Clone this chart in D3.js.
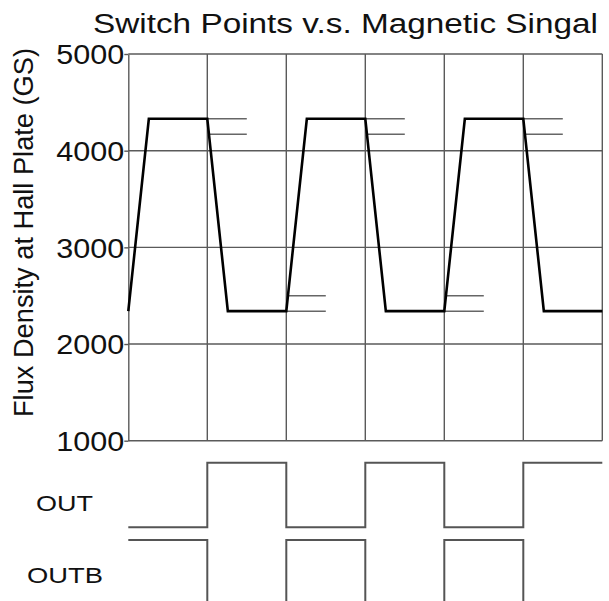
<!DOCTYPE html>
<html>
<head>
<meta charset="utf-8">
<script src="https://cdn.jsdelivr.net/npm/d3@7"></script>
<style>
  body { margin: 0; background: #fff; }
  text { font-family: "Liberation Sans", Arial, sans-serif; fill: #111; }
</style>
</head>
<body>
<div id="chart"></div>
<script>

var width = 609;
var height = 601;

// magnetic signal (time in switch periods, flux in GS)
var times = [0, 0.26, 1, 1.26, 2, 2.26, 3, 3.26, 4, 4.26, 5, 5.26, 6];
var flux = [2340, 4330, 4330, 2340, 2340, 4330, 4330, 2340, 2340, 4330, 4330, 2340, 2340];

// switch point marks: operate/release levels
var topMarkStarts = [1, 3, 5];
var bottomMarkStarts = [2, 4];
var topMarkLevels = [4330, 4170];
var bottomMarkLevels = [2500, 2340];
var markLength = 0.5;

// output states per period
var outStates = [0, 1, 0, 1, 0, 1];
var outbStates = [1, 0, 1, 0, 1, 0];

var yTicks = [1000, 2000, 3000, 4000, 5000];
var xGrid = [1, 2, 3, 4, 5, 6];

var title = "Switch Points v.s. Magnetic Singal";
var yLabel = "Flux Density at Hall Plate (GS)";

var svg = d3.select("#chart")
  .append("svg")
  .attr("width", width)
  .attr("height", height);

var xScale = d3.scaleLinear().domain([0, 6]).range([128.3, 602.3]);
var yScale = d3.scaleLinear().domain([1000, 5000]).range([440.7, 54]);

var gridColor = "#5a5a5a";

// grid
svg.append("g").selectAll("line.h")
  .data(yTicks.slice(1))
  .enter().append("line")
  .attr("x1", xScale(0)).attr("x2", xScale(6))
  .attr("y1", function(d) { return yScale(d); })
  .attr("y2", function(d) { return yScale(d); })
  .attr("stroke", gridColor).attr("stroke-width", 1.4);

svg.append("g").selectAll("line.v")
  .data(xGrid)
  .enter().append("line")
  .attr("x1", function(d) { return xScale(d); })
  .attr("x2", function(d) { return xScale(d); })
  .attr("y1", yScale(5000)).attr("y2", yScale(1000))
  .attr("stroke", gridColor).attr("stroke-width", 1.4);

svg.append("line")
  .attr("x1", xScale(0)).attr("x2", xScale(6))
  .attr("y1", yScale(1000)).attr("y2", yScale(1000))
  .attr("stroke", gridColor).attr("stroke-width", 1.4);

// y axis
var yAxis = svg.append("g")
  .attr("transform", "translate(" + xScale(0) + ",0)")
  .call(d3.axisLeft(yScale).tickValues(yTicks).tickFormat(d3.format("d"))
    .tickSize(4).tickSizeOuter(0).tickPadding(0));
yAxis.select(".domain").attr("stroke", gridColor).attr("stroke-width", 1.4);
yAxis.selectAll(".tick line").attr("stroke", gridColor).attr("stroke-width", 1.4);
yAxis.selectAll(".tick text")
  .attr("font-size", 27)
  .attr("font-family", "Liberation Sans, Arial, sans-serif")
  .attr("fill", "#111")
  .attr("dy", "0.36em")
  .attr("textLength", 68)
  .attr("lengthAdjust", "spacingAndGlyphs");

// switch point marks
var marks = [];
topMarkStarts.forEach(function(t) {
  topMarkLevels.forEach(function(v) { marks.push({t: t, v: v}); });
});
bottomMarkStarts.forEach(function(t) {
  bottomMarkLevels.forEach(function(v) { marks.push({t: t, v: v}); });
});
svg.append("g").selectAll("line")
  .data(marks)
  .enter().append("line")
  .attr("x1", function(d) { return xScale(d.t); })
  .attr("x2", function(d) { return xScale(d.t + markLength); })
  .attr("y1", function(d) { return yScale(d.v); })
  .attr("y2", function(d) { return yScale(d.v); })
  .attr("stroke", "#666").attr("stroke-width", 1.5);

// magnetic signal
var signal = times.map(function(t, i) { return [t, flux[i]]; });
svg.append("path")
  .datum(signal)
  .attr("fill", "none")
  .attr("stroke", "#000")
  .attr("stroke-width", 2.6)
  .attr("stroke-linejoin", "miter")
  .attr("d", d3.line()
    .x(function(d) { return xScale(d[0]); })
    .y(function(d) { return yScale(d[1]); }));

// digital outputs
var outY = d3.scaleLinear().domain([0, 1]).range([527.3, 462.7]);
var outbY = d3.scaleLinear().domain([0, 1]).range([625, 540]);

function stepPoints(states) {
  var pts = states.map(function(s, i) { return [i, s]; });
  pts.push([states.length, states[states.length - 1]]);
  return pts;
}

svg.append("path")
  .datum(stepPoints(outStates))
  .attr("fill", "none").attr("stroke", "#555").attr("stroke-width", 2)
  .attr("d", d3.line().curve(d3.curveStepAfter)
    .x(function(d) { return xScale(d[0]); })
    .y(function(d) { return outY(d[1]); }));

svg.append("path")
  .datum(stepPoints(outbStates))
  .attr("fill", "none").attr("stroke", "#555").attr("stroke-width", 2)
  .attr("d", d3.line().curve(d3.curveStepAfter)
    .x(function(d) { return xScale(d[0]); })
    .y(function(d) { return outbY(d[1]); }));

// texts
svg.append("text")
  .attr("x", 93).attr("y", 33)
  .attr("font-size", 27)
  .attr("textLength", 505)
  .attr("lengthAdjust", "spacingAndGlyphs")
  .text(title);

svg.append("text")
  .attr("transform", "translate(33,417) rotate(-90)")
  .attr("font-size", 27)
  .attr("textLength", 369)
  .attr("lengthAdjust", "spacingAndGlyphs")
  .text(yLabel);

svg.append("text")
  .attr("x", 36).attr("y", 511)
  .attr("font-size", 22)
  .attr("textLength", 57)
  .attr("lengthAdjust", "spacingAndGlyphs")
  .text("OUT");

svg.append("text")
  .attr("x", 27).attr("y", 583)
  .attr("font-size", 22)
  .attr("textLength", 76)
  .attr("lengthAdjust", "spacingAndGlyphs")
  .text("OUTB");

</script>
</body>
</html>
